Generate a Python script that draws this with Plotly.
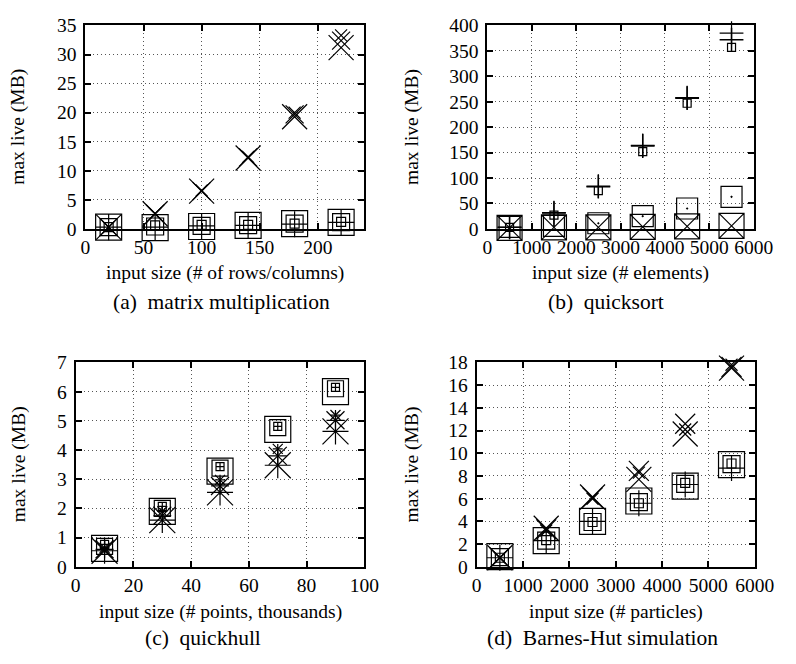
import plotly.graph_objects as go

# ---------------- data ----------------
# (a) matrix multiplication
xa = [20, 60, 100, 140, 180, 220]
a_sq_big = [0.3, 0.2, 0.4, 0.6, 0.9, 1.1]
a_sq_mid = [0.3, 0.4, 0.5, 0.65, 0.9, 1.15]
a_sq_small = [0.3, 0.6, 0.7, 0.7, 0.9, 1.2]
a_plus = [0.3, 0.3, 0.5, 0.6, 0.8, 1.1]
a_x_big = [0.3, 2.6, 6.5, 12.2, 19.3, 31.2]
a_x_mid = [0.3, 2.6, 6.5, 12.3, 19.7, 32.4]
a_x_small = [0.3, 2.6, 6.6, 12.4, 20.0, 33.3]

# (b) quicksort
xb = [500, 1500, 2500, 3500, 4500, 5500]
b_plus1 = [3, 31, 83, 163, 257, 372]
b_plus2 = [3, 32, 84, 164, 258, 385]
b_sq_small = [3, 27, 75, 152, 247, 357]
b_sq_dot = [4, 6, 11, 25, 40, 63]
b_sq_x = [2, 3, 3, 4, 5, 6]

# (c) quickhull
xc = [10, 30, 50, 70, 90]
c_sq_big = [0.63, 1.9, 3.28, 4.71, 6.0]
c_sq_mid = [0.7, 2.0, 3.38, 4.77, 6.1]
c_sq_small = [0.77, 2.07, 3.43, 4.81, 6.15]
c_star_big = [0.55, 1.6, 2.55, 3.48, 4.64]
c_star_mid = [0.6, 1.75, 2.77, 3.8, 5.02]
c_star_small = [0.65, 1.9, 2.98, 4.04, 5.2]

# (d) Barnes-Hut simulation
xd = [500, 1500, 2500, 3500, 4500, 5500]
d_sq_big = [0.9, 2.3, 4.0, 5.8, 7.1, 9.0]
d_sq_mid = [0.85, 2.3, 3.95, 5.7, 7.3, 9.05]
d_sq_small = [0.8, 2.35, 3.95, 5.6, 7.4, 9.1]
d_plus = [0.8, 2.3, 4.0, 5.6, 7.25, 8.7]
d_x_big = [0.8, 3.4, 6.15, 7.7, 11.7, 17.5]
d_x_mid = [0.8, 3.3, 6.1, 8.45, 12.6, 17.6]
d_x_small = [0.8, 3.2, 6.0, 8.3, 12.1, 17.8]

titles_x = ["input size (# of rows/columns)", "input size (# elements)",
            "input size (# points, thousands)", "input size (# particles)"]
captions = ["(a)  matrix multiplication", "(b)  quicksort",
            "(c)  quickhull", "(d)  Barnes-Hut simulation"]
y_title = "max live (MB)"

# ---------------- figure ----------------
W, H = 796, 664
FONT = "Liberation Serif"
fig = go.Figure()

def add(x, y, symbol, size, ax, lw=1.2):
    fig.add_trace(go.Scatter(
        x=x, y=y, mode="markers", cliponaxis=False, showlegend=False,
        xaxis="x" + ax, yaxis="y" + ax, hoverinfo="skip",
        marker=dict(symbol=symbol, size=size, color="black",
                    line=dict(color="black", width=lw))))

def star(x, y, span, ax):
    add(x, y, "x-thin-open", span, ax)
    add(x, y, "cross-thin-open", span / 1.4, ax)

# (a)
add(xa, a_sq_big, "square-open", 26, "")
add(xa, a_sq_mid, "square-open", 17, "")
add(xa, a_sq_small, "square-open", 9, "")
add(xa, a_plus, "cross-thin-open", 18.6, "")
add(xa, a_x_big, "x-thin-open", 25, "")
add(xa, a_x_mid, "x-thin-open", 18, "")
add(xa, a_x_small, "x-thin-open", 12, "")

# (b)
add(xb, b_sq_x, "square-x-open", 25, "2")
add(xb, b_sq_dot, "square-open-dot", 21, "2")
add(xb, b_sq_small, "square-open", 8, "2")
add(xb, b_plus1, "cross-thin-open", 17, "2", 1.5)
add(xb, b_plus2, "cross-thin-open", 17, "2", 1.2)

# (c)
add(xc, c_sq_big, "square-open", 26, "3")
add(xc, c_sq_mid, "square-open", 16, "3")
add(xc, c_sq_small, "square-cross-open", 8, "3")
star(xc, c_star_big, 26, "3")
star(xc, c_star_mid, 18, "3")
star(xc, c_star_small, 10, "3")

# (d)
add(xd, d_sq_big, "square-open", 26, "4")
add(xd, d_sq_mid, "square-open", 17, "4")
add(xd, d_sq_small, "square-open", 9, "4")
add(xd, d_plus, "cross-thin-open", 18.6, "4")
add(xd, d_x_big, "x-thin-open", 25, "4")
add(xd, d_x_mid, "x-thin-open", 20, "4")
add(xd, d_x_small, "x-thin-open", 12, "4")

# panel geometry in pixels: (left, right, top, bottom)
panels = [(83, 371, 16, 226), (498, 773, 16, 226),
          (73, 371, 364, 575), (487, 774, 364, 575)]
xranges = [[0, 240], [0, 6000], [0, 100], [0, 6000]]
yranges = [[0, 35], [0, 400], [0, 7], [0, 18]]
xdticks = [50, 1000, 20, 1000]
ydticks = [5, 50, 1, 2]

common = dict(showline=True, linecolor="black", linewidth=2, mirror="ticks",
              ticks="inside", ticklen=6, tickwidth=1.5, tickcolor="black",
              showgrid=True, gridcolor="#555", griddash="1px,3px", gridwidth=1,
              zeroline=False, tickfont=dict(family=FONT, size=19.5, color="black"),
              tickangle=0, layer="above traces", fixedrange=True)

layout = {}
for i, (l, r, t, b) in enumerate(panels):
    sfx = "" if i == 0 else str(i + 1)
    layout["xaxis" + sfx] = dict(common, domain=[l / W, r / W], range=xranges[i],
                                 dtick=xdticks[i], tick0=0,
                                 anchor="y" + sfx, ticklabelstandoff=0)
    layout["yaxis" + sfx] = dict(common, domain=[1 - b / H, 1 - t / H], range=yranges[i],
                                 dtick=ydticks[i], tick0=0,
                                 anchor="x" + sfx, ticklabelstandoff=3)

ann = []
xtitle_y = [272, 272, 622, 622]
cap_y = [302, 302, 648, 648]
cap_x = [224, 620, 204, 617]
ytitle_x = [14, 420, 14, 420]
for i, (l, r, t, b) in enumerate(panels):
    ann.append(dict(text=titles_x[i], x=(l + r) / 2 / W, y=1 - xtitle_y[i] / H,
                    xref="paper", yref="paper", showarrow=False,
                    xanchor="center", yanchor="middle",
                    font=dict(family=FONT, size=19.5, color="black")))
    ann.append(dict(text=captions[i], x=cap_x[i] / W, y=1 - cap_y[i] / H,
                    xref="paper", yref="paper", showarrow=False,
                    xanchor="center", yanchor="middle",
                    font=dict(family=FONT, size=21.5, color="black")))
    ann.append(dict(text=y_title, x=ytitle_x[i] / W, y=1 - (t + b) / 2 / H,
                    xref="paper", yref="paper", showarrow=False, textangle=-90,
                    xanchor="center", yanchor="middle",
                    font=dict(family=FONT, size=19.5, color="black")))

fig.update_layout(width=W, height=H, margin=dict(l=0, r=0, t=0, b=0),
                  paper_bgcolor="white", plot_bgcolor="white",
                  font=dict(family=FONT, size=19.5, color="black"),
                  annotations=ann, **layout)

fig.write_html("out.html", config={"displayModeBar": False},
               post_script="document.body.style.margin='0';")
